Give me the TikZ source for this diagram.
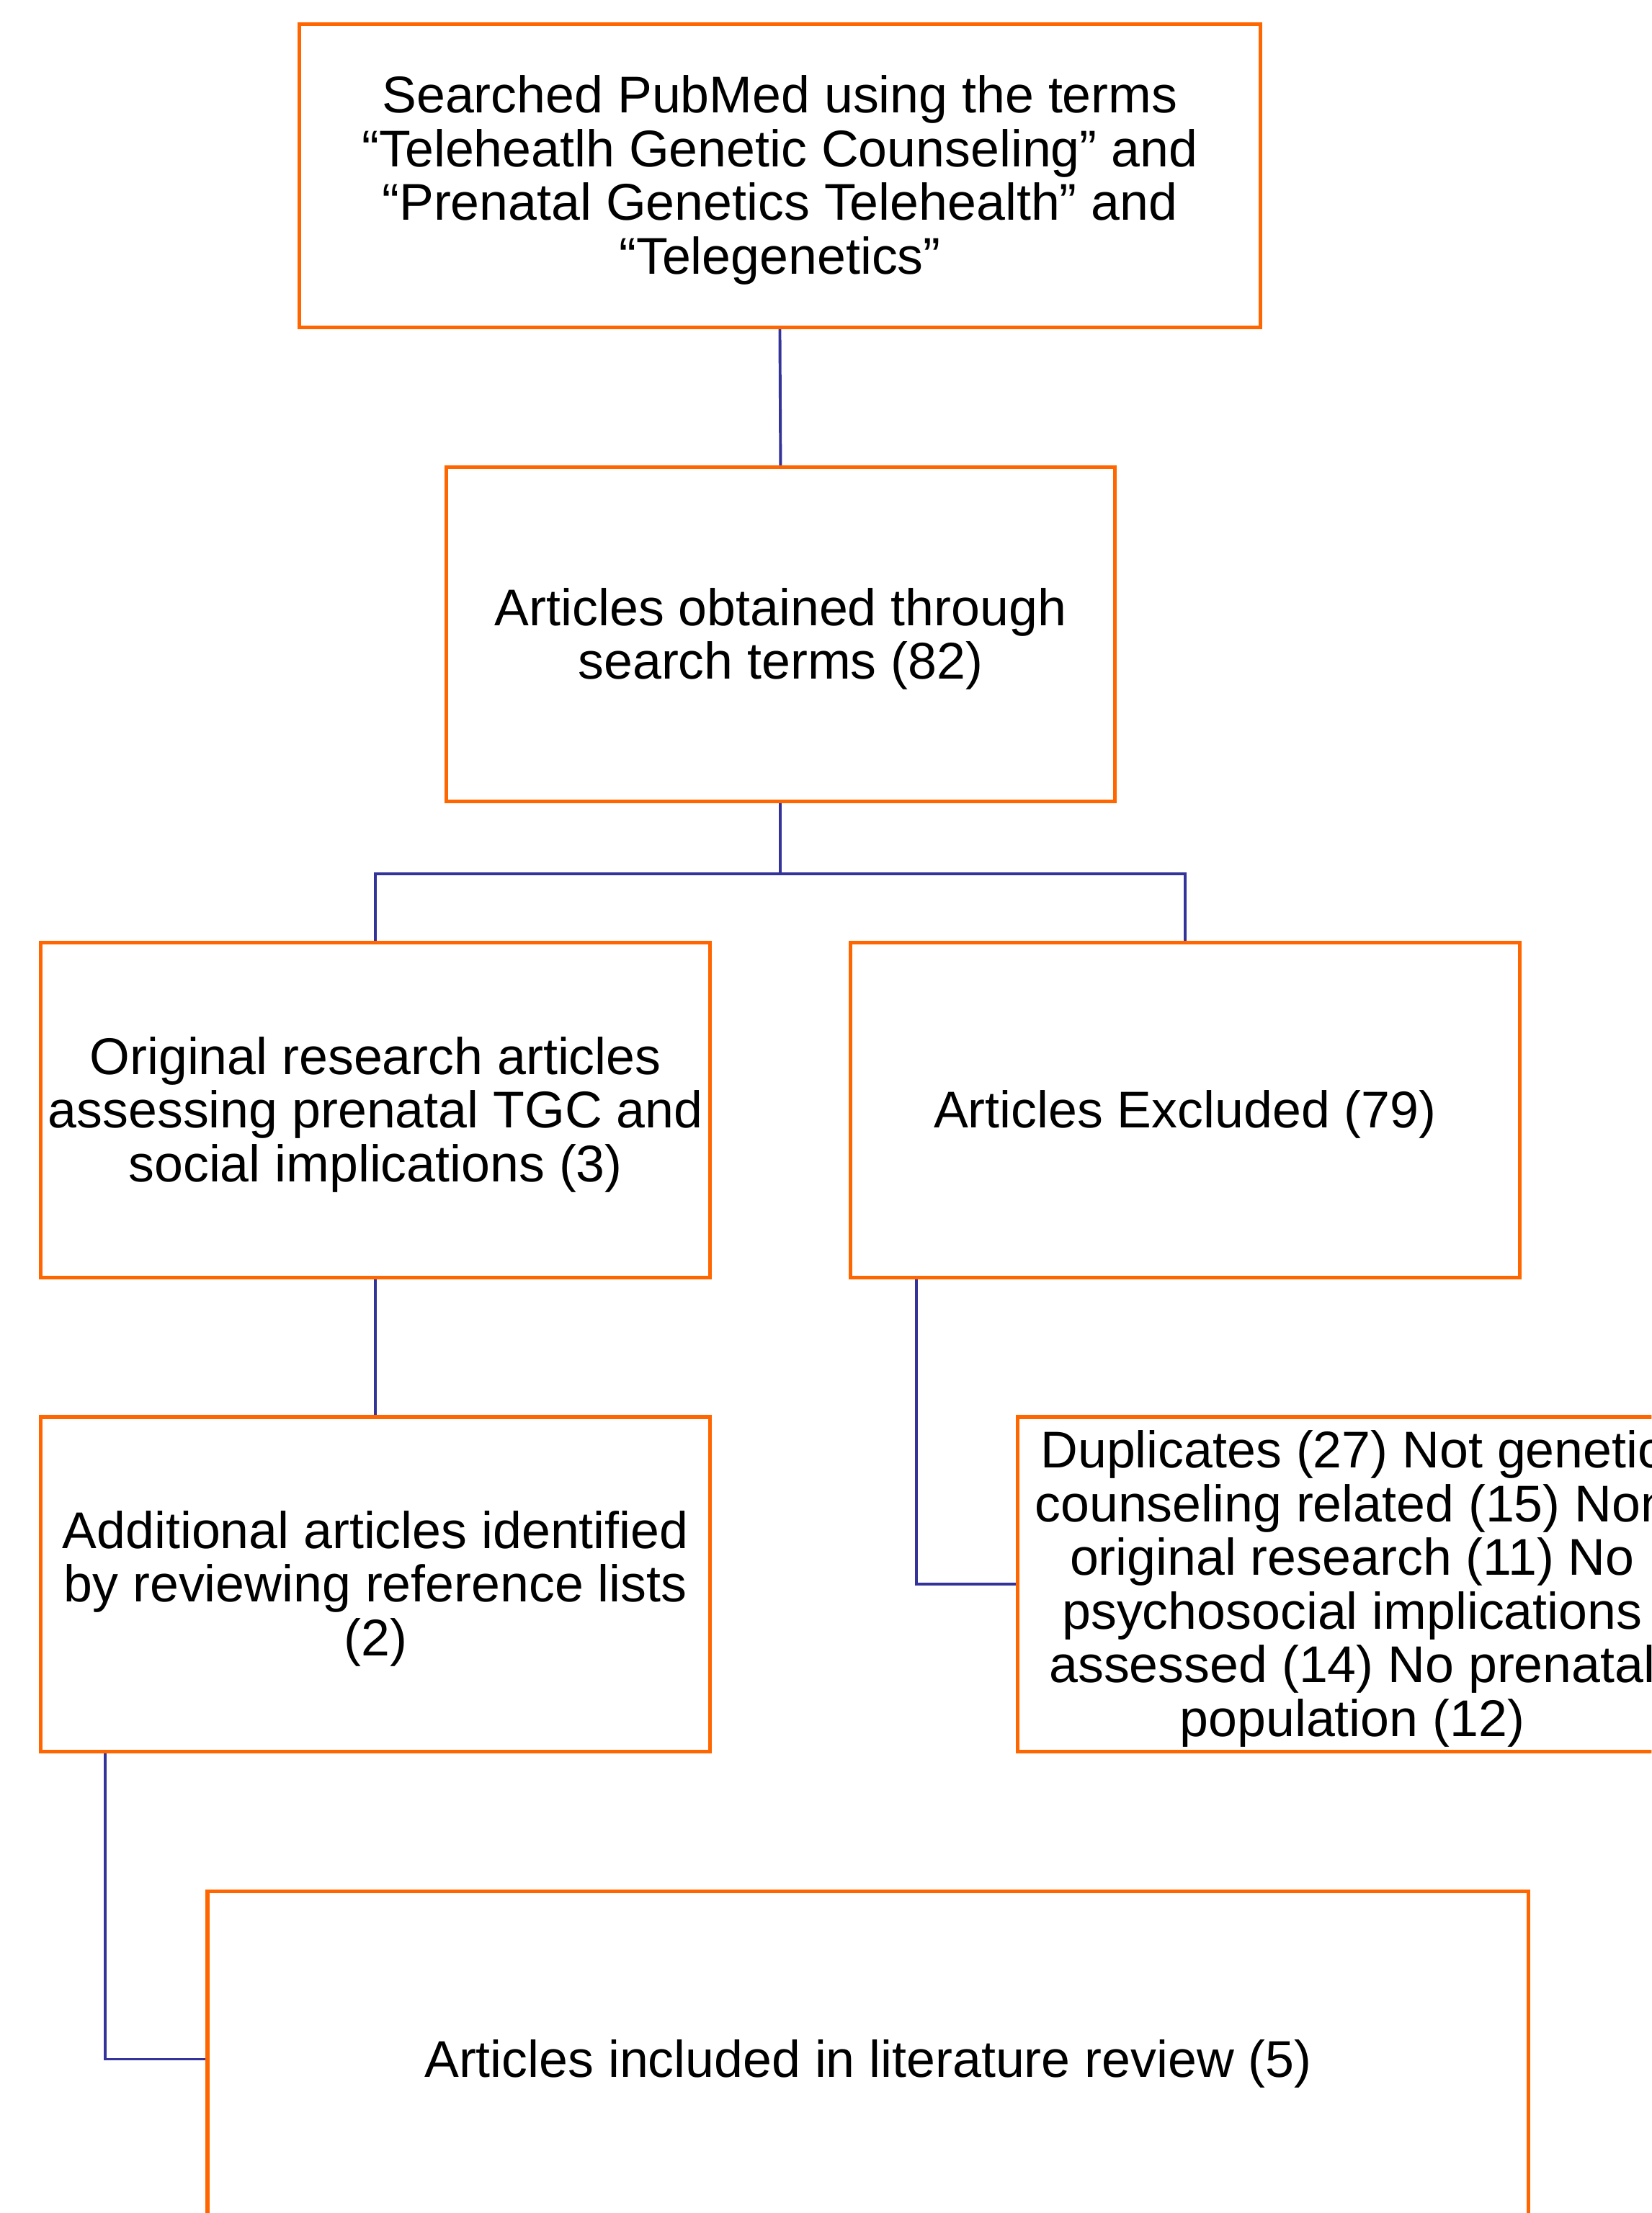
\documentclass[tikz,border=0pt]{standalone}
\usepackage{fontspec}
\setmainfont{Liberation Sans}
\usetikzlibrary{calc}

\definecolor{boxorange}{HTML}{FF6600}
\definecolor{linkblue}{HTML}{333399}

\tikzset{
    flowbox/.style={draw=boxorange, line width=1.3pt, fill=white, align=flush center,
        inner sep=0pt, minimum width=237pt, minimum height=118.5pt, text width=237pt,
        font=\fontsize{18.3}{19}\selectfont,
        execute at begin node={\rule{0pt}{16.4pt}}},
    link/.style={draw=linkblue, line width=1pt}
}

\begin{document}
\begin{tikzpicture}[x=0.5pt, y=-0.5pt]
        \useasboundingbox (0,0) rectangle (1170,1568);
        \clip (0,0) rectangle (1170,1568);

        \node[flowbox, text width=340.5pt, minimum height=107.5pt] (search) at (552.5,124.5)
            {Searched PubMed using the terms\\
             ``Teleheatlh Genetic Counseling'' and\\
             ``Prenatal Genetics Telehealth'' and\\
             ``Telegenetics''};
        \node[flowbox] (found) at (553,449.5)
            {Articles obtained through\\search terms (82)};
        \node[flowbox] (orig) at (266,786.5)
            {Original research articles\\assessing prenatal TGC and\\social implications (3)};
        \node[flowbox] (excl) at (839.5,786.5)
            {Articles Excluded (79)};
        \node[flowbox] (addl) at (266,1122.5)
            {Additional articles identified\\by reviewing reference lists\\(2)};
        \node[flowbox] (dupl) at (958,1122.5)
            {Duplicates (27) Not genetic\\counseling related (15) Non\\original research (11) No\\psychosocial implications\\assessed (14) No prenatal\\population (12)};
        \node[flowbox, text width=468pt, minimum height=119pt] (incl) at (615,1459)
            {Articles included in literature review (5)};

        % connectors
        \coordinate (split) at ($(found.south)+(0,50)$);
        \draw[link] (search.south) -- (found.north);
        \draw[link] (found.south) -- (split);
        \draw[link] (split) -| (orig.north);
        \draw[link] (split) -| (excl.north);
        \draw[link] (orig.south) -- (addl.north);
        \draw[link] ($(excl.south west)+(48,0)$) |- (dupl.west);
        \draw[link] ($(addl.south west)+(47,0)$) |- (incl.west);
\end{tikzpicture}
\end{document}
